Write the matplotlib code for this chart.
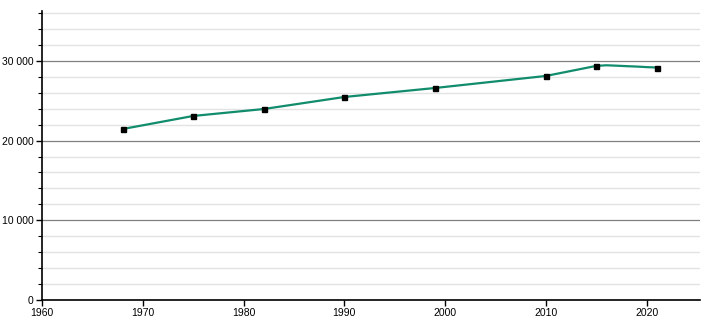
import matplotlib
matplotlib.use("Agg")
import matplotlib.pyplot as plt
from matplotlib.ticker import MultipleLocator, FuncFormatter

census_years = [1968, 1975, 1982, 1990, 1999, 2010, 2015, 2021]
census_pop = [21450, 23090, 23960, 25470, 26600, 28110, 29370, 29170]
line_years = [1968, 1975, 1982, 1990, 1999, 2010, 2015, 2016, 2017, 2018, 2019, 2020, 2021]
line_pop = [21450, 23090, 23960, 25470, 26600, 28110, 29370, 29450, 29400, 29340, 29290, 29220, 29170]

plt.rcParams['font.family'] = ['Liberation Sans', 'DejaVu Sans']

fig = plt.figure(figsize=(7.1, 3.2), dpi=100)
ax = fig.add_axes([42/710, 1 - 300/320, 658/710, 289/320])

ax.set_xlim(1960, 2025.3)
ax.set_ylim(0, 36260)

ax.yaxis.set_major_locator(MultipleLocator(10000))
ax.yaxis.set_minor_locator(MultipleLocator(2000))
ax.xaxis.set_major_locator(MultipleLocator(10))
ax.yaxis.set_major_formatter(FuncFormatter(lambda v, p: f"{int(v):,}".replace(",", " ")))

ax.grid(which='minor', axis='y', color='#e3e3e3', linewidth=1)
ax.grid(which='major', axis='y', color='#808080', linewidth=0.9)
ax.set_axisbelow(True)

ax.plot(line_years, line_pop, color='#118c6c', linewidth=1.6, zorder=3)
ax.plot(census_years, census_pop, linestyle='none', marker='s', markersize=3.6,
        color='black', zorder=4)

for s in ['top', 'right']:
    ax.spines[s].set_visible(False)
for s in ['left', 'bottom']:
    ax.spines[s].set_color('black')
    ax.spines[s].set_linewidth(1.2)

ax.tick_params(axis='both', which='major', length=4, width=1, labelsize=7.5, colors='black', pad=2)
ax.tick_params(axis='y', which='minor', length=3, width=0.8)

fig.savefig("out.png", dpi=100, facecolor='white')
